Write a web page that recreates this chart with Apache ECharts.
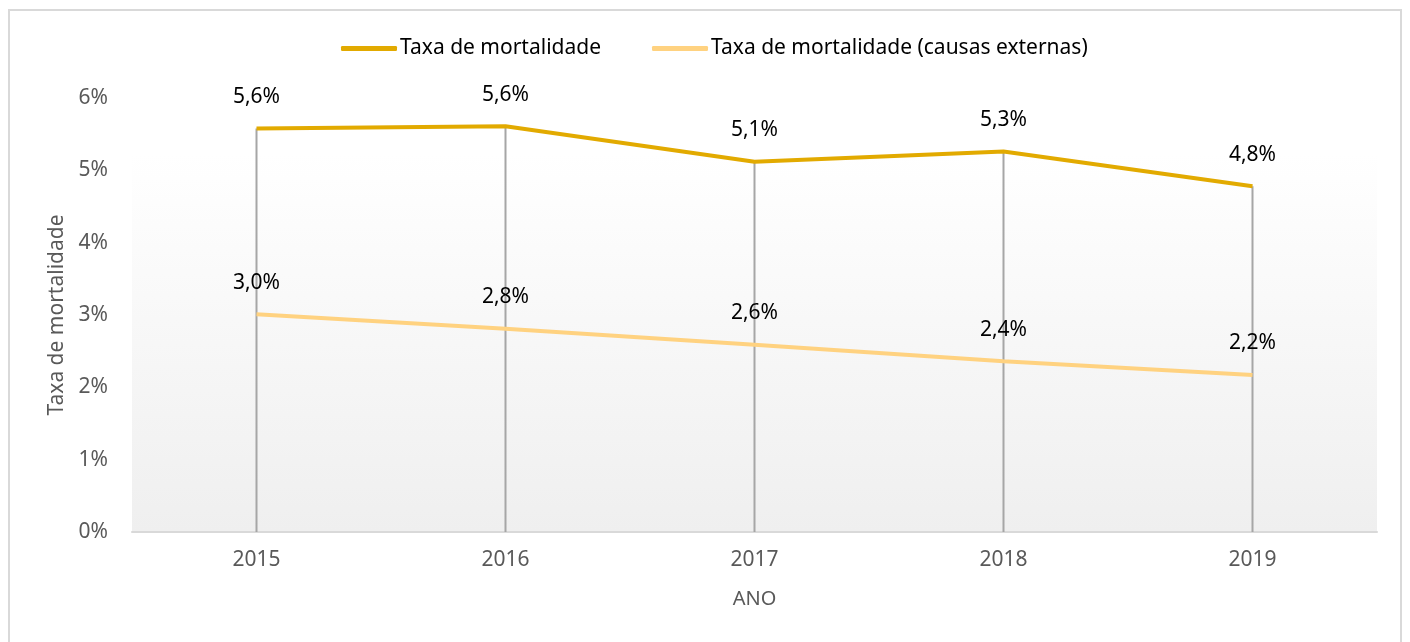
<!DOCTYPE html>
<html>
<head>
<meta charset="utf-8">
<script src="https://cdn.jsdelivr.net/npm/echarts@6/dist/echarts.min.js"></script>
<style>
  html, body { margin: 0; padding: 0; background: #fff; }
  #frame { position: absolute; left: 8px; top: 9px; width: 1394px; height: 640px; border: 2px solid #d9d9d9; box-sizing: border-box; }
  #chart { width: 1410px; height: 642px; position: absolute; left: 0; top: 0; }
</style>
</head>
<body>
<div id="frame"></div>
<div id="chart"></div>
<script>
  // dados
  const anos = ['2015', '2016', '2017', '2018', '2019'];
  const taxaMortalidade = [5.58, 5.61, 5.12, 5.26, 4.78];
  const taxaExternas = [3.01, 2.81, 2.59, 2.36, 2.17];
  const yTicks = [0, 1, 2, 3, 4, 5, 6];

  const serieNomes = ['Taxa de mortalidade', 'Taxa de mortalidade (causas externas)'];
  // linhas verticais até o eixo (altura = maior valor de cada ano)
  const alturas = anos.map((a, i) => Math.max(taxaMortalidade[i], taxaExternas[i]));

  const fonte = '"Noto Sans", sans-serif';
  const rotulo = {
    show: true,
    position: 'top',
    distance: 21,
    color: '#000',
    fontSize: 21,
    fontFamily: fonte,
    formatter: p => p.value.toFixed(1).replace('.', ',') + '%'
  };

  const chart = echarts.init(document.getElementById('chart'));
  const option = {
    animation: false,
    legend: {
      data: serieNomes,
      top: 33,
      left: 336,
      itemWidth: 56,
      itemHeight: 5,
      itemGap: 51,
      icon: 'roundRect',
      textStyle: { fontSize: 21, fontFamily: fonte, color: '#000', padding: [0, 0, 0, -2] }
    },
    grid: {
      left: 132, right: 33, top: 98, bottom: 110,
      show: true,
      borderWidth: 0,
      backgroundColor: {
        type: 'linear', x: 0, y: 0, x2: 0, y2: 1,
        colorStops: [
          { offset: 0, color: '#ffffff' },
          { offset: 0.13, color: '#ffffff' },
          { offset: 1, color: '#efefef' }
        ]
      }
    },
    xAxis: {
      type: 'category',
      data: anos,
      name: 'ANO',
      nameLocation: 'middle',
      nameGap: 57,
      nameTextStyle: { fontSize: 20, fontFamily: fonte, color: '#595959' },
      axisLine: { lineStyle: { color: '#d9d9d9', width: 2 } },
      axisTick: { show: false },
      axisLabel: { fontSize: 21, fontFamily: fonte, color: '#595959', margin: 18 }
    },
    yAxis: {
      type: 'value',
      min: yTicks[0],
      max: yTicks[yTicks.length - 1],
      interval: 1,
      name: 'Taxa de mortalidade',
      nameLocation: 'middle',
      nameGap: 62,
      nameTextStyle: { fontSize: 21, fontFamily: fonte, color: '#595959' },
      axisLine: { show: false },
      axisTick: { show: false },
      splitLine: { show: false },
      axisLabel: { fontSize: 21, fontFamily: fonte, color: '#595959', margin: 24, formatter: '{value}%' }
    },
    series: [
      {
        name: 'linhas',
        type: 'bar',
        data: alturas,
        barWidth: 2,
        itemStyle: { color: '#a6a6a6' },
        silent: true,
        z: 1
      },
      {
        name: serieNomes[0],
        type: 'line',
        data: taxaMortalidade,
        symbol: 'circle',
        symbolSize: 0.1,
        showSymbol: true,
        lineStyle: { color: '#e2aa00', width: 4 },
        itemStyle: { color: '#e2aa00' },
        label: rotulo,
        z: 3
      },
      {
        name: serieNomes[1],
        type: 'line',
        data: taxaExternas,
        symbol: 'circle',
        symbolSize: 0.1,
        showSymbol: true,
        lineStyle: { color: '#ffd280', width: 4 },
        itemStyle: { color: '#ffd280' },
        label: rotulo,
        z: 2
      }
    ]
  };
  chart.setOption(option);
</script>
</body>
</html>
